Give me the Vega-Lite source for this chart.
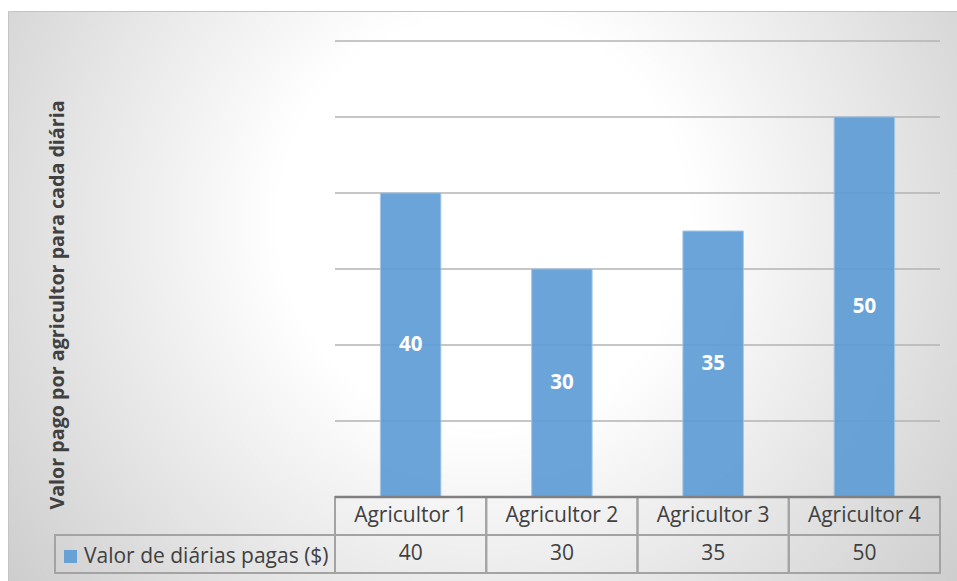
{
  "$schema": "https://vega.github.io/schema/vega-lite/v6.json",
  "autosize": "none",
  "padding": {"left": 8, "top": 11, "right": 0, "bottom": 0},
  "width": 949,
  "height": 570,
  "title": {
    "text": "Valor pago por agricultor para cada diária",
    "orient": "left",
    "anchor": "middle",
    "frame": "group",
    "offset": -60,
    "dx": -9,
    "font": "Open Sans",
    "fontSize": 19.7,
    "fontWeight": "bold",
    "color": "#404040",
    "limit": 1000
  },
  "config": {
    "view": {
      "fill": {
        "gradient": "radial",
        "x1": 0.5, "y1": 0.42, "r1": 0,
        "x2": 0.5, "y2": 0.42, "r2": 0.72,
        "stops": [
          {"offset": 0, "color": "#ffffff"},
          {"offset": 0.3, "color": "#ffffff"},
          {"offset": 1, "color": "#c2c2c2"}
        ]
      },
      "stroke": "#c4c4c4",
      "strokeWidth": 1
    },
    "text": {"font": "Open Sans", "fontSize": 21, "color": "#404040"}
  },
  "datasets": {
    "diarias": [
      {"agricultor": "Agricultor 1", "valor": 40, "serie": "Valor de diárias pagas ($)"},
      {"agricultor": "Agricultor 2", "valor": 30, "serie": "Valor de diárias pagas ($)"},
      {"agricultor": "Agricultor 3", "valor": 35, "serie": "Valor de diárias pagas ($)"},
      {"agricultor": "Agricultor 4", "valor": 50, "serie": "Valor de diárias pagas ($)"}
    ],
    "grade": [{"v": 10}, {"v": 20}, {"v": 30}, {"v": 40}, {"v": 50}, {"v": 60}]
  },
  "resolve": {"scale": {"x": "independent"}},
  "layer": [
    {
      "data": {"name": "grade"},
      "mark": {"type": "rule", "color": "#b3b3b3", "strokeWidth": 1.5},
      "encoding": {
        "x": {"datum": 0, "type": "quantitative", "scale": {"domain": [0, 1], "range": [327, 932]}, "axis": null},
        "x2": {"datum": 1},
        "y": {"field": "v", "type": "quantitative", "scale": {"domain": [-10, 60], "range": [562, 30], "nice": false, "zero": false}, "axis": null}
      }
    },
    {
      "data": {"name": "diarias"},
      "layer": [
        {
          "mark": {"type": "bar", "width": {"band": 0.4}, "opacity": 0.9, "stroke": "#9dc3e6", "strokeWidth": 1},
          "encoding": {
            "x": {"field": "agricultor", "type": "nominal", "scale": {"type": "band", "range": [327, 932], "paddingInner": 0, "paddingOuter": 0}, "axis": null},
            "y": {"field": "valor", "type": "quantitative", "scale": {"domain": [-10, 60], "range": [562, 30], "nice": false, "zero": false}, "axis": null},
            "y2": {"datum": 0},
            "color": {
              "field": "serie", "type": "nominal",
              "scale": {"range": ["#5b9bd5"]},
              "legend": {
                "orient": "none", "legendX": 52, "legendY": 535, "title": null, "padding": 0,
                "symbolType": "square", "symbolSize": 169, "symbolStrokeWidth": 0, "symbolOpacity": 0.9,
                "labelFont": "Open Sans", "labelFontSize": 21, "labelColor": "#404040", "labelOffset": 3, "labelLimit": 0
              }
            }
          }
        },
        {
          "mark": {"type": "text", "color": "#ffffff", "fontWeight": "bold", "fontSize": 20.5, "baseline": "middle"},
          "encoding": {
            "x": {"field": "agricultor", "type": "nominal", "axis": null},
            "y": {"datum": 0, "axis": null},
            "yOffset": {"field": "valor", "type": "quantitative", "scale": {"domain": [0, 60], "range": [0, -228]}},
            "text": {"field": "valor", "type": "quantitative"}
          }
        },
        {
          "mark": {"type": "rect", "fill": null, "stroke": "#a3a3a3", "strokeWidth": 2},
          "encoding": {
            "x": {"field": "agricultor", "type": "nominal", "axis": null},
            "y": {"datum": -5, "axis": null},
            "y2": {"datum": 0}
          }
        },
        {
          "mark": {"type": "rect", "fill": null, "stroke": "#a3a3a3", "strokeWidth": 2},
          "encoding": {
            "x": {"field": "agricultor", "type": "nominal", "axis": null},
            "y": {"datum": -10, "axis": null},
            "y2": {"datum": -5}
          }
        },
        {
          "mark": {"type": "text", "baseline": "middle"},
          "encoding": {
            "x": {"field": "agricultor", "type": "nominal", "axis": null},
            "y": {"datum": -2.5, "axis": null},
            "text": {"field": "agricultor", "type": "nominal"}
          }
        },
        {
          "mark": {"type": "text", "baseline": "middle"},
          "encoding": {
            "x": {"field": "agricultor", "type": "nominal", "axis": null},
            "y": {"datum": -7.5, "axis": null},
            "text": {"field": "valor", "type": "quantitative"}
          }
        }
      ]
    },
    {
      "data": {"values": [{}]},
      "mark": {"type": "rect", "fill": null, "stroke": "#a3a3a3", "strokeWidth": 2},
      "encoding": {
        "x": {"datum": 0, "type": "quantitative", "scale": {"domain": [0, 1], "range": [47, 327]}, "axis": null},
        "x2": {"datum": 1},
        "y": {"datum": -10, "axis": null},
        "y2": {"datum": -5}
      }
    },
    {
      "data": {"values": [{}]},
      "mark": {"type": "rule", "color": "#808080", "strokeWidth": 2.5},
      "encoding": {
        "x": {"datum": 0, "type": "quantitative", "scale": {"domain": [0, 1], "range": [327, 932]}, "axis": null},
        "x2": {"datum": 1},
        "y": {"datum": 0, "axis": null}
      }
    }
  ]
}
